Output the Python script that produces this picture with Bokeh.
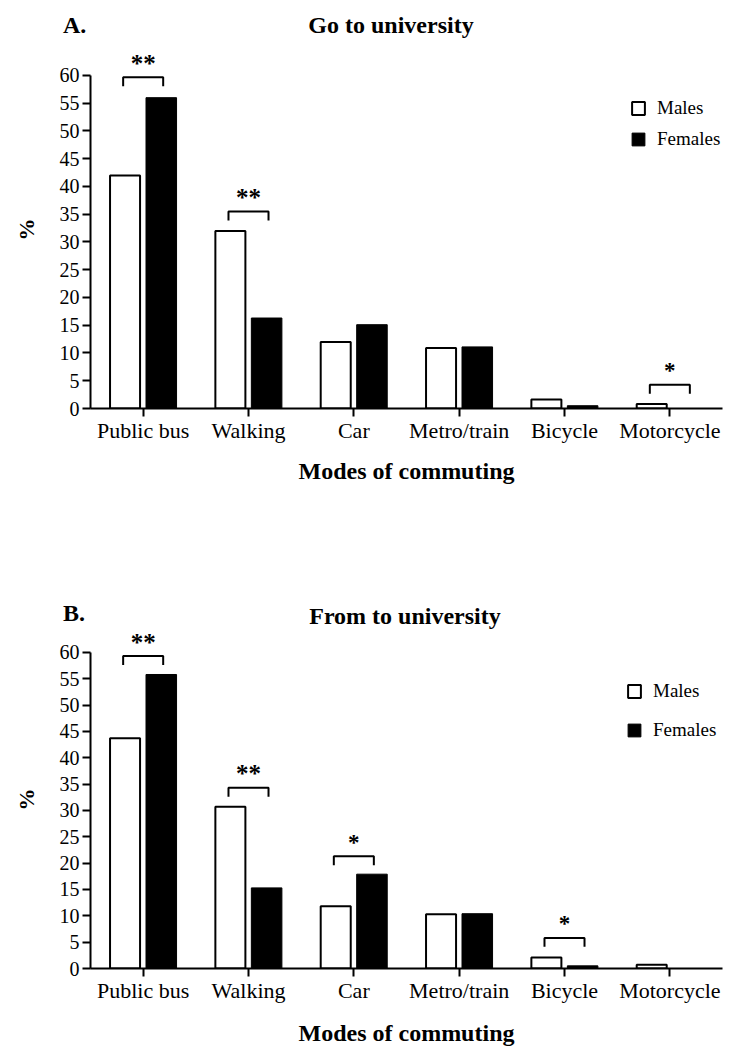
from bokeh.plotting import figure
from bokeh.models import (FactorRange, Range1d, FixedTicker, Legend, LegendItem,
                          ColumnDataSource, Div)
from bokeh.transform import dodge
from bokeh.layouts import column
from bokeh.embed import file_html
from bokeh.resources import INLINE
from bokeh.core.properties import value

# ---------------- data ----------------
modes = ["Public bus", "Walking", "Car", "Metro/train", "Bicycle", "Motorcycle"]

go_males = [42.0, 32.0, 12.0, 10.9, 1.6, 0.8]
go_females = [56.0, 16.3, 15.1, 11.1, 0.5, 0.0]

from_males = [43.7, 30.7, 11.8, 10.3, 2.1, 0.7]
from_females = [55.8, 15.3, 17.9, 10.4, 0.5, 0.0]

y_ticks = [0, 5, 10, 15, 20, 25, 30, 35, 40, 45, 50, 55, 60]

go_sig_modes = ["Public bus", "Walking", "Motorcycle"]
go_sig_levels = [59.7, 35.5, 4.3]
go_sig_labels = ["**", "**", "*"]

from_sig_modes = ["Public bus", "Walking", "Car", "Bicycle"]
from_sig_levels = [59.3, 34.3, 21.3, 5.8]
from_sig_labels = ["**", "**", "*", "*"]

FONT = "Liberation Serif"
W = 729


def title_div(letter, title, height, letter_top, title_top, title_cx):
    html = ('<div style="position:relative;width:%dpx;height:%dpx;'
            'font-family:\'Liberation Serif\';font-weight:bold;font-size:24px;'
            'line-height:28px;color:#000;">'
            '<span style="position:absolute;left:63px;top:%dpx;">%s</span>'
            '<span style="position:absolute;left:%dpx;top:%dpx;width:400px;'
            'text-align:center;">%s</span></div>'
            % (W, height, letter_top, letter, title_cx - 200, title_top, title))
    return Div(text=html, width=W, height=height, margin=(0, 0, 0, 0))


def make_panel(males, females, sig_modes, sig_levels, sig_labels,
               height, b_bottom, y_end, legend_loc, legend_spacing, xlabel_standoff):
    p = figure(x_range=FactorRange(factors=modes, range_padding=0),
               y_range=Range1d(0, y_end), title_location=None,
               width=W, height=height, output_backend="svg",
               toolbar_location=None, min_border_left=90, min_border_right=7,
               min_border_top=0, min_border_bottom=b_bottom, margin=(0, 0, 0, 0))
    p.outline_line_color = None
    p.xgrid.grid_line_color = None
    p.ygrid.grid_line_color = None
    p.background_fill_color = "white"
    p.border_fill_color = "white"

    src = ColumnDataSource(dict(mode=modes, males=males, females=females))
    rm = p.vbar(x=dodge("mode", -0.172, range=p.x_range), top="males", bottom=0,
                width=0.285, source=src, fill_color="white", line_color="black",
                line_width=2)
    rf = p.vbar(x=dodge("mode", 0.172, range=p.x_range), top="females", bottom=0,
                width=0.29, source=src, fill_color="black", line_color="black",
                line_width=1)

    # significance brackets
    frame_h = height - b_bottom
    drop = 9 * y_end / frame_h
    xs, ys, tx = [], [], []
    for m, lvl in zip(sig_modes, sig_levels):
        c = modes.index(m) + 0.5
        xs.append([c - 0.19, c - 0.19, c + 0.19, c + 0.19])
        ys.append([lvl - drop, lvl, lvl, lvl - drop])
        tx.append(c)
    p.multi_line(xs=xs, ys=ys, line_color="black", line_width=2)
    for size, lab in (("25px", "**"), ("23px", "*")):
        idx = [i for i, s in enumerate(sig_labels) if s == lab]
        if not idx:
            continue
        p.text(x=[tx[i] for i in idx], y=[sig_levels[i] for i in idx],
               text=[sig_labels[i] for i in idx], text_align="center",
               text_baseline="alphabetic", y_offset=-14,
               text_font=value(FONT), text_font_style="bold",
               text_font_size=size, text_color="black")

    # axes
    xa = p.xaxis[0]
    xa.axis_label = "Modes of commuting"
    xa.axis_label_text_font = FONT
    xa.axis_label_text_font_style = "bold"
    xa.axis_label_text_font_size = "24px"
    xa.axis_label_text_color = "black"
    xa.axis_label_standoff = xlabel_standoff
    xa.major_label_text_font = FONT
    xa.major_label_text_font_size = "22px"
    xa.major_label_text_color = "black"
    xa.major_label_standoff = 1
    xa.axis_line_width = 2
    xa.major_tick_line_width = 2
    xa.major_tick_out = 8
    xa.major_tick_in = 0
    xa.minor_tick_line_color = None

    ya = p.yaxis[0]
    ya.ticker = FixedTicker(ticks=y_ticks)
    ya.bounds = (0, 60)
    ya.axis_label = "%"
    ya.axis_label_text_font = FONT
    ya.axis_label_text_font_style = "bold"
    ya.axis_label_text_font_size = "22px"
    ya.axis_label_text_color = "black"
    ya.axis_label_standoff = 18
    ya.major_label_text_font = FONT
    ya.major_label_text_font_size = "20px"
    ya.major_label_text_color = "black"
    ya.major_label_standoff = 3
    ya.axis_line_width = 2
    ya.major_tick_line_width = 2
    ya.major_tick_out = 8
    ya.major_tick_in = 0
    ya.minor_tick_line_color = None

    # legend
    leg = Legend(items=[LegendItem(label="Males", renderers=[rm]),
                        LegendItem(label="Females", renderers=[rf])],
                 location=legend_loc, padding=0, margin=0, spacing=legend_spacing,
                 glyph_width=16, glyph_height=16, label_standoff=11,
                 label_text_font=FONT, label_text_font_size="19px",
                 label_text_color="black", border_line_color=None,
                 background_fill_alpha=0)
    p.add_layout(leg)
    return p


div_a = title_div("A.", "Go to university", height=50, letter_top=11,
                  title_top=11, title_cx=391)
pa = make_panel(go_males, go_females, go_sig_modes, go_sig_levels, go_sig_labels,
                height=480, b_bottom=122, y_end=64.5,
                legend_loc=(540, 258), legend_spacing=9, xlabel_standoff=12)
div_b = title_div("B.", "From to university", height=100, letter_top=69,
                  title_top=72, title_cx=405)
pb = make_panel(from_males, from_females, from_sig_modes, from_sig_levels,
                from_sig_labels, height=418, b_bottom=77, y_end=64.15,
                legend_loc=(536, 227), legend_spacing=17, xlabel_standoff=14)

layout = column(div_a, pa, div_b, pb, spacing=0)
open("out.html", "w").write(file_html(layout, INLINE))
